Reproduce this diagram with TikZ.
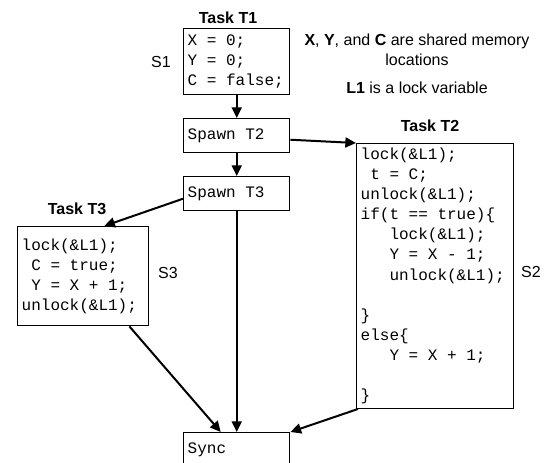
\documentclass[tikz,border=0pt]{standalone}
\usepackage{fontspec}
\setsansfont{Liberation Sans}
\setmonofont{Liberation Mono}
\usetikzlibrary{arrows.meta,calc}
\newcommand\codefont{\fontsize{12}{15.1}\selectfont\ttfamily}
\newcommand\codespacing{\spaceskip=0.6em\relax\xspaceskip=0.6em\relax}
\tikzset{
  codebox/.style={draw, line width=1.1pt, anchor=north west, inner sep=3pt, align=left,
    font=\codefont, execute at begin node=\codespacing},
  tasklabel/.style={font=\fontsize{12}{14}\selectfont\sffamily\bfseries},
  stmtlabel/.style={font=\fontsize{12}{14}\selectfont\sffamily},
  flow/.style={-{Triangle[length=8pt,width=7.5pt]}, line width=1.5pt},
}
\newcommand\codeindent{\hphantom{000}}
\begin{document}
\begin{tikzpicture}[x=0.75pt, y=-0.75pt]
	\useasboundingbox (0,0) rectangle (549,463);
	\clip (0,0) rectangle (549,463);
	% code boxes
	\node[codebox, minimum width=79.5pt, minimum height=49.5pt, text width=73.5pt] (t1) at (183,28)
		{X = 0;\\Y = 0;\\C = false;};
	\node[codebox, minimum width=79.5pt, minimum height=25.5pt, text width=73.5pt] (sp2) at (183,118) {Spawn T2};
	\node[codebox, minimum width=79.5pt, minimum height=25.5pt, text width=73.5pt] (sp3) at (183,176) {Spawn T3};
	\node[codebox, minimum width=98.25pt, minimum height=74.25pt, text width=92.25pt] (t3) at (17,226)
		{lock(\&L1);\\\hphantom{0}C = true;\\\hphantom{0}Y = X + 1;\\unlock(\&L1);};
	\node[codebox, minimum width=117.75pt, minimum height=198pt, text width=111.75pt] (t2) at (356,143)
		{lock(\&L1);\\
		\hphantom{0}t = C;\\
		unlock(\&L1);\\
		if(t == true)\{\\
		\codeindent lock(\&L1);\\
		\codeindent Y = X - 1;\\
		\codeindent unlock(\&L1);\\
		~\\
		\}\\
		else\{\\
		\codeindent Y = X + 1;\\
		~\\
		\}};
	\node[codebox, minimum width=79.5pt, minimum height=25.5pt, text width=73.5pt] (sync) at (183,432) {Sync};
	% titles and labels
	\node[tasklabel] (t1title) at (228,18) {Task T1};
	\node[tasklabel] (t2title) at (430,126) {Task T2};
	\node[tasklabel] (t3title) at (77,209) {Task T3};
	\node[stmtlabel] (s1) at (161,62) {S1};
	\node[stmtlabel] (s2) at (531,272) {S2};
	\node[stmtlabel] (s3) at (168,273) {S3};
	\node[stmtlabel, align=center, font=\fontsize{12}{15}\selectfont\sffamily] (shared) at (417,50)
		{\textbf{X}, \textbf{Y}, and \textbf{C} are shared memory\\locations};
	\node[stmtlabel] (lockvar) at (417,88) {\textbf{L1} is a lock variable};
	% control flow
	\draw[flow] (t1.south) -- (sp2.north);
	\draw[flow] ($(sp2.east)+(0,4)$) -- (t2.north west);
	\draw[flow] (sp2.south) -- (sp3.north);
	\draw[flow] ($(sp3.west)+(0,5)$) -- ($(t3.north)+(21,0)$);
	\draw[flow] (sp3.south) -- (sync.north);
	\draw[flow] ($(t3.south east)+(-20,0)$) -- ($(sync.north)+(-16,0)$);
	\draw[flow] ($(t2.south west)+(2,0)$) -- (sync.north east);
\end{tikzpicture}
\end{document}
